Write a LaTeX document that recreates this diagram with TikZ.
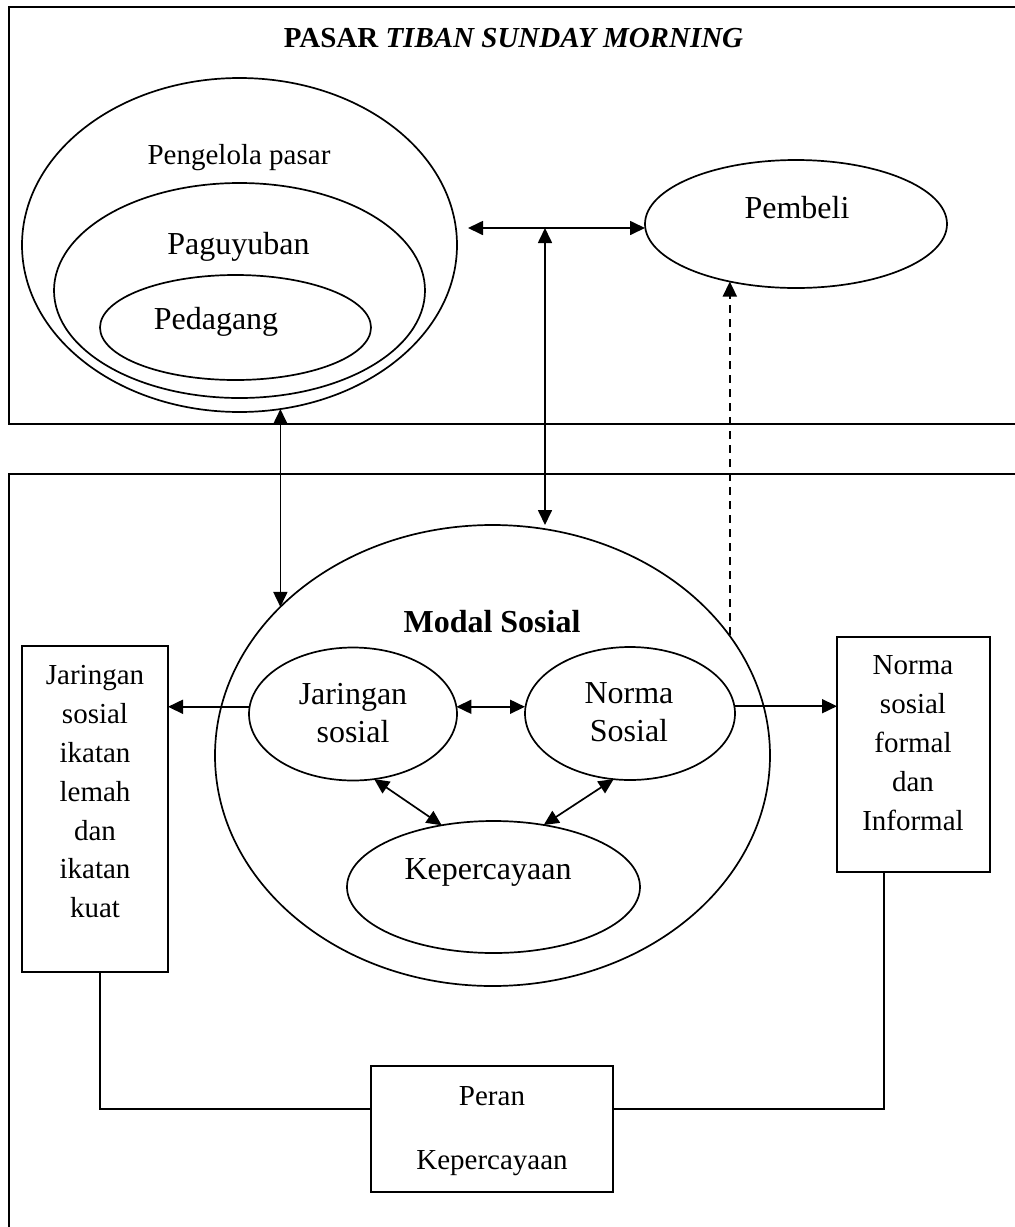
\documentclass[tikz,border=0pt]{standalone}
\usepackage{fontspec}
\setmainfont{Liberation Serif}
\usetikzlibrary{shapes.geometric,arrows.meta}
\begin{document}
\begin{tikzpicture}[x=0.5pt,y=-0.5pt,
  ell/.style={draw, ellipse, line width=0.85pt, inner sep=0pt, outer sep=0pt},
  boxnode/.style={draw, rectangle, line width=0.85pt, inner sep=0pt, outer sep=0pt},
  frame/.style={line width=1.1pt},
  ln/.style={line width=0.85pt},
  onearrow/.style={ln, -{Triangle[length=7.5pt,width=7pt]}},
  twoarrow/.style={ln, {Triangle[length=7.5pt,width=7pt]}-{Triangle[length=7.5pt,width=7pt]}},
  fs/.style={font=\fontsize{14.5}{19.4}\selectfont},
  fb/.style={font=\fontsize{16}{19}\selectfont},
  txt/.style={inner sep=0pt, outer sep=0pt, anchor=base},
  mtxt/.style={inner sep=0pt, outer sep=0pt, anchor=north, align=center},
]
\useasboundingbox (0,0) rectangle (1014,1227);

% frames
\draw[frame] (1030,7) -- (9,7) -- (9,424) -- (1030,424);
\draw[frame] (1030,474) -- (9,474) -- (9,1240);

% title
\node[txt, fs] (title) at (513.5,47) {\textbf{PASAR \textit{TIBAN SUNDAY MORNING}}};

% top ellipses
\node[ell, minimum width=217.5pt, minimum height=167pt] (peng) at (239.5,245) {};
\node[ell, minimum width=185.5pt, minimum height=107.5pt] (pag) at (239.5,290.5) {};
\node[ell, minimum width=135.5pt, minimum height=52.5pt] (ped) at (235.5,327.5) {};
\node[ell, minimum width=151pt, minimum height=64pt] (pem) at (796,224) {};

\node[txt, fs] (pengt) at (239,164) {Pengelola pasar};
\node[txt, fb] (pagt) at (238.5,254) {Paguyuban};
\node[txt, fb] (pedt) at (216,329) {Pedagang};
\node[txt, fb] (pemt) at (797,218) {Pembeli};

% modal sosial
\node[ell, minimum width=277.5pt, minimum height=230.5pt] (modal) at (492.5,755.5) {};
\node[txt, fb] (modalt) at (492,632) {\textbf{Modal Sosial}};
\node[ell, minimum width=104pt, minimum height=66.5pt] (jar) at (353,714) {};
\node[ell, minimum width=105pt, minimum height=66.5pt] (nor) at (630,713.5) {};
\node[ell, minimum width=146.5pt, minimum height=66pt] (kep) at (493.5,887) {};
\node[mtxt, fb] (jart) at (353,677.4) {\strut Jaringan\\\strut sosial};
\node[mtxt, fb] (nort) at (629,676.4) {\strut Norma\\\strut Sosial};
\node[txt, fb] (kept) at (488,879) {Kepercayaan};

% boxes
\node[boxnode, minimum width=73pt, minimum height=163pt] (lbox) at (95,809) {};
\node[boxnode, minimum width=76.5pt, minimum height=117.5pt] (rbox) at (913.5,754.5) {};
\node[boxnode, minimum width=121pt, minimum height=63pt] (peran) at (492,1129) {};
\node[mtxt, fs] (lboxt) at (95,657.8) {\strut Jaringan\\\strut sosial\\\strut ikatan\\\strut lemah\\\strut dan\\\strut ikatan\\\strut kuat};
\node[mtxt, fs] (rboxt) at (913,647.8) {\strut Norma\\\strut sosial\\\strut formal\\\strut dan\\\strut Informal};
\node[mtxt, font=\fontsize{14.5}{32}\selectfont] (perant) at (492,1060.2) {\strut Peran\\\strut Kepercayaan};

% connectors
\coordinate (hl) at (468,228);
\coordinate (tj) at (545,228);
\draw[twoarrow] (hl) -- (hl -| pem.west);
\draw[twoarrow] (tj) -- (tj |- modal.north);
\draw[twoarrow] (peng.-76.8) -- (peng.-76.8 |- modal.145.7);
\draw[onearrow, dash pattern=on 4pt off 3pt] (pem.-139.4 |- modal.27) -- (pem.-139.4);

\draw[twoarrow] (jar.4) -- (jar.4 -| nor.west);
\draw[onearrow] (jar.176) -- (jar.176 -| lbox.east);
\draw[onearrow] (nor.4) -- (nor.4 -| rbox.west);
\draw[twoarrow] (jar.-72) -- (kep.130);
\draw[twoarrow] (nor.-104) -- (kep.51);

\draw[ln] ([xshift=2.5pt]lbox.south) |- ([yshift=10pt]peran.west);
\draw[ln] ([xshift=-14.75pt]rbox.south) |- ([yshift=10pt]peran.east);
\end{tikzpicture}
\end{document}
